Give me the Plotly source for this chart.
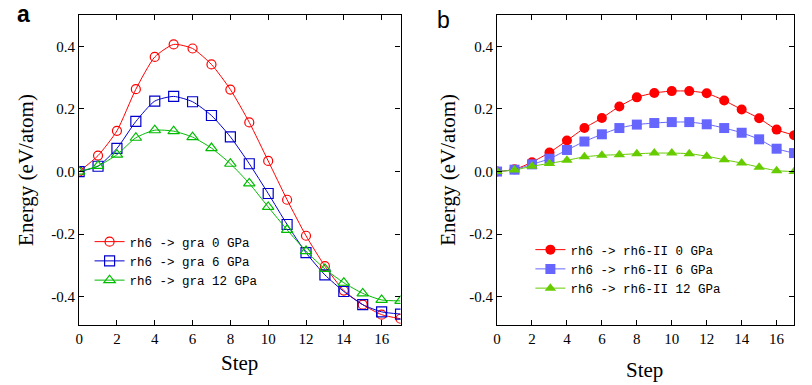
import plotly.graph_objects as go

steps = list(range(18))

# Panel a: rh6 -> gra
a_0gpa = [0.000, 0.051, 0.130, 0.263, 0.366, 0.406, 0.393, 0.342, 0.262, 0.157,
          0.034, -0.090, -0.205, -0.302, -0.380, -0.425, -0.457, -0.470]
a_6gpa = [0.000, 0.017, 0.074, 0.160, 0.225, 0.240, 0.223, 0.179, 0.111, 0.025,
          -0.070, -0.169, -0.259, -0.330, -0.383, -0.425, -0.448, -0.455]
a_12gpa = [0.000, 0.018, 0.054, 0.108, 0.132, 0.129, 0.110, 0.075, 0.025, -0.038,
           -0.113, -0.186, -0.254, -0.311, -0.355, -0.389, -0.410, -0.413]

# Panel b: rh6 -> rh6-II
b_0gpa = [0.000, 0.007, 0.030, 0.061, 0.099, 0.139, 0.171, 0.208, 0.237, 0.251,
          0.257, 0.257, 0.250, 0.227, 0.198, 0.170, 0.134, 0.116]
b_6gpa = [0.000, 0.006, 0.023, 0.041, 0.069, 0.096, 0.119, 0.139, 0.150, 0.155,
          0.158, 0.158, 0.151, 0.139, 0.124, 0.103, 0.073, 0.059]
b_12gpa = [0.000, 0.005, 0.017, 0.026, 0.036, 0.047, 0.052, 0.054, 0.057, 0.059,
           0.059, 0.057, 0.049, 0.038, 0.027, 0.014, 0.003, 0.000]

names_a = ["rh6 -> gra 0 GPa", "rh6 -> gra 6 GPa", "rh6 -> gra 12 GPa"]
names_b = ["rh6 -> rh6-II 0 GPa", "rh6 -> rh6-II 6 GPa", "rh6 -> rh6-II 12 GPa"]

xticks = [0, 2, 4, 6, 8, 10, 12, 14, 16]
yticks = [-0.4, -0.2, 0.0, 0.2, 0.4]
yticklabels = ["-0.4", "-0.2", "0.0", "0.2", "0.4"]

W, H = 812, 385

fig = go.Figure()

colors_a = ["#ff0000", "#0000cc", "#00bb00"]
symbols_a = ["circle-open", "square-open", "triangle-up-open"]
sizes_a = [9, 10, 10]
for ys, nm, c, s, sz in zip([a_0gpa, a_6gpa, a_12gpa], names_a, colors_a, symbols_a, sizes_a):
    fig.add_trace(go.Scatter(
        x=steps, y=ys, name=nm, mode="lines+markers",
        line=dict(color=c, width=1, shape="spline", smoothing=0.6),
        marker=dict(symbol=s, size=sz, color=c, line=dict(width=1.2, color=c)),
        xaxis="x", yaxis="y", legend="legend"))

colors_b = ["#ff0000", "#6666ff", "#66cc00"]
symbols_b = ["circle", "square", "triangle-up"]
sizes_b = [10, 10, 10]
for ys, nm, c, s, sz in zip([b_0gpa, b_6gpa, b_12gpa], names_b, colors_b, symbols_b, sizes_b):
    fig.add_trace(go.Scatter(
        x=steps, y=ys, name=nm, mode="lines+markers",
        line=dict(color=c, width=1, shape="spline", smoothing=0.6),
        marker=dict(symbol=s, size=sz, color=c),
        xaxis="x2", yaxis="y2", legend="legend2"))

ax_common = dict(
    showgrid=False, zeroline=False, showline=True, linecolor="black", linewidth=1.3,
    mirror="ticks", ticks="inside", ticklen=5, tickwidth=1.2, tickcolor="black",
    tickfont=dict(family="Liberation Serif", size=15, color="black"),
)

y_dom = [1 - 325 / H, 1 - 15 / H]
fig.update_layout(
    width=W, height=H,
    margin=dict(l=0, r=0, t=0, b=0),
    paper_bgcolor="white", plot_bgcolor="white",
    xaxis=dict(domain=[75.5 / W, 398.5 / W], range=[0, 17], tickvals=xticks,
               anchor="y", **ax_common),
    yaxis=dict(domain=y_dom, range=[-0.49, 0.5], tickvals=yticks, ticktext=yticklabels,
               anchor="x", **ax_common),
    xaxis2=dict(domain=[495.5 / W, 794 / W], range=[0, 17], tickvals=xticks,
                anchor="y2", **ax_common),
    yaxis2=dict(domain=y_dom, range=[-0.49, 0.5], tickvals=yticks, ticktext=yticklabels,
                anchor="x2", **ax_common),
    legend=dict(x=86 / W, y=1 - 227 / H, xanchor="left", yanchor="top",
                bgcolor="rgba(0,0,0,0)", font=dict(family="Liberation Mono", size=12.5, color="black"),
                tracegroupgap=0, itemwidth=30),
    legend2=dict(x=529 / W, y=1 - 235 / H, xanchor="left", yanchor="top",
                 bgcolor="rgba(0,0,0,0)", font=dict(family="Liberation Mono", size=12.5, color="black"),
                 tracegroupgap=0, itemwidth=30),
    showlegend=True,
)

ann = []
title_font = dict(family="Liberation Serif", size=21, color="black")
ann.append(dict(text="Step", x=237 / W, y=1 - 363 / H, xref="paper", yref="paper",
                showarrow=False, font=title_font, xanchor="center", yanchor="middle"))
ann.append(dict(text="Step", x=644 / W, y=1 - 370 / H, xref="paper", yref="paper",
                showarrow=False, font=title_font, xanchor="center", yanchor="middle"))
ann.append(dict(text="Energy (eV/atom)", x=22 / W, y=1 - 170 / H, xref="paper", yref="paper",
                showarrow=False, font=title_font, textangle=-90, xanchor="center", yanchor="middle"))
ann.append(dict(text="Energy (eV/atom)", x=446 / W, y=1 - 170 / H, xref="paper", yref="paper",
                showarrow=False, font=title_font, textangle=-90, xanchor="center", yanchor="middle"))
ann.append(dict(text="<b>a</b>", x=20 / W, y=1 - 14 / H, xref="paper", yref="paper",
                showarrow=False, font=dict(family="Liberation Sans", size=23, color="black"),
                xanchor="center", yanchor="middle"))
ann.append(dict(text="b", x=442 / W, y=1 - 20 / H, xref="paper", yref="paper",
                showarrow=False, font=dict(family="Liberation Sans", size=23, color="black"),
                xanchor="center", yanchor="middle"))
fig.update_layout(annotations=ann)

fig.write_html("out.html", config={"displayModeBar": False},
               post_script="document.body.style.margin='0';document.body.style.overflow='hidden';")
